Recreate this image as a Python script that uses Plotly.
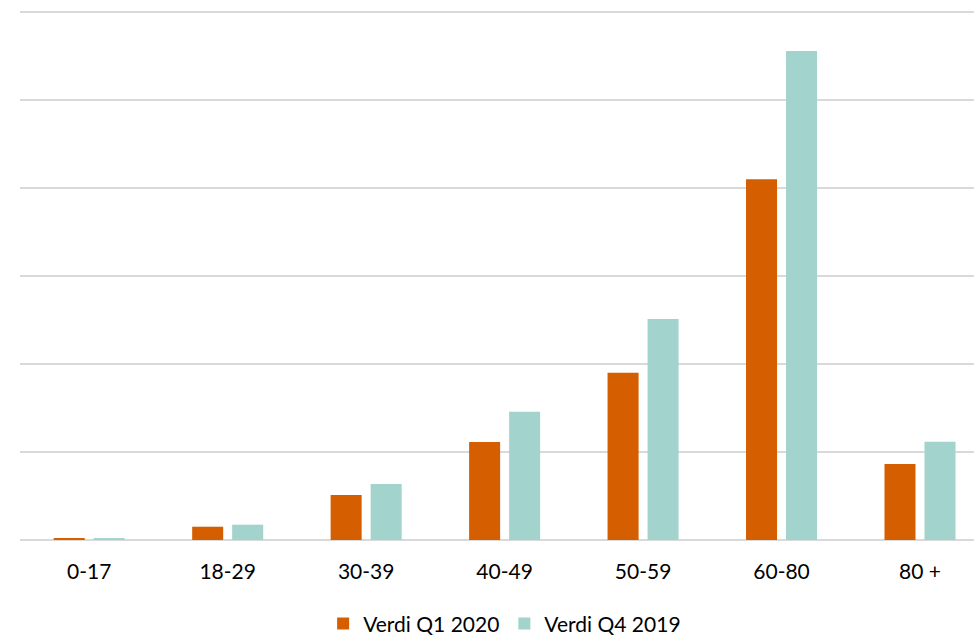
import plotly.graph_objects as go

categories = ["0-17", "18-29", "30-39", "40-49", "50-59", "60-80", "80 +"]
q1_2020 = [15, 151, 511, 1114, 1900, 4100, 864]
q4_2019 = [15, 174, 636, 1458, 2511, 5557, 1117]
series_names = ["Verdi Q1 2020", "Verdi Q4 2019"]
colors = ["#D55E00", "#A2D3CC"]

fig = go.Figure()
fig.add_trace(go.Bar(x=categories, y=q1_2020, name=series_names[0],
                     marker=dict(color=colors[0], line=dict(width=0))))
fig.add_trace(go.Bar(x=categories, y=q4_2019, name=series_names[1],
                     marker=dict(color=colors[1], line=dict(width=0))))

fig.update_layout(
    width=974, height=638,
    margin=dict(l=20, r=0, t=10, b=98, autoexpand=False),
    paper_bgcolor="white", plot_bgcolor="white",
    barmode="group", bargap=0.422, bargroupgap=0.225,
    font=dict(family="Lato, Carlito, sans-serif", size=21, color="#000000"),
    showlegend=True,
    legend=dict(orientation="h", x=0.508, xanchor="center",
                yref="container", y=0.022, yanchor="middle",
                font=dict(size=21), itemwidth=30, traceorder="normal"),
    xaxis=dict(range=[-0.5, 6.39], showgrid=False, showline=False, ticks="",
               automargin=False, ticklabelstandoff=17, tickfont=dict(size=21)),
    yaxis=dict(range=[0, 6022.7], tickvals=[1000, 2000, 3000, 4000, 5000, 6000],
               showticklabels=False, showgrid=True, automargin=False,
               gridcolor="#D9D9D9", gridwidth=1.5, zeroline=True,
               zerolinecolor="#D9D9D9", zerolinewidth=1.5, showline=False, ticks=""),
)

fig.write_html("out.html", config={"displayModeBar": False},
               post_script="document.body.style.margin='0';document.body.style.overflow='hidden';")
